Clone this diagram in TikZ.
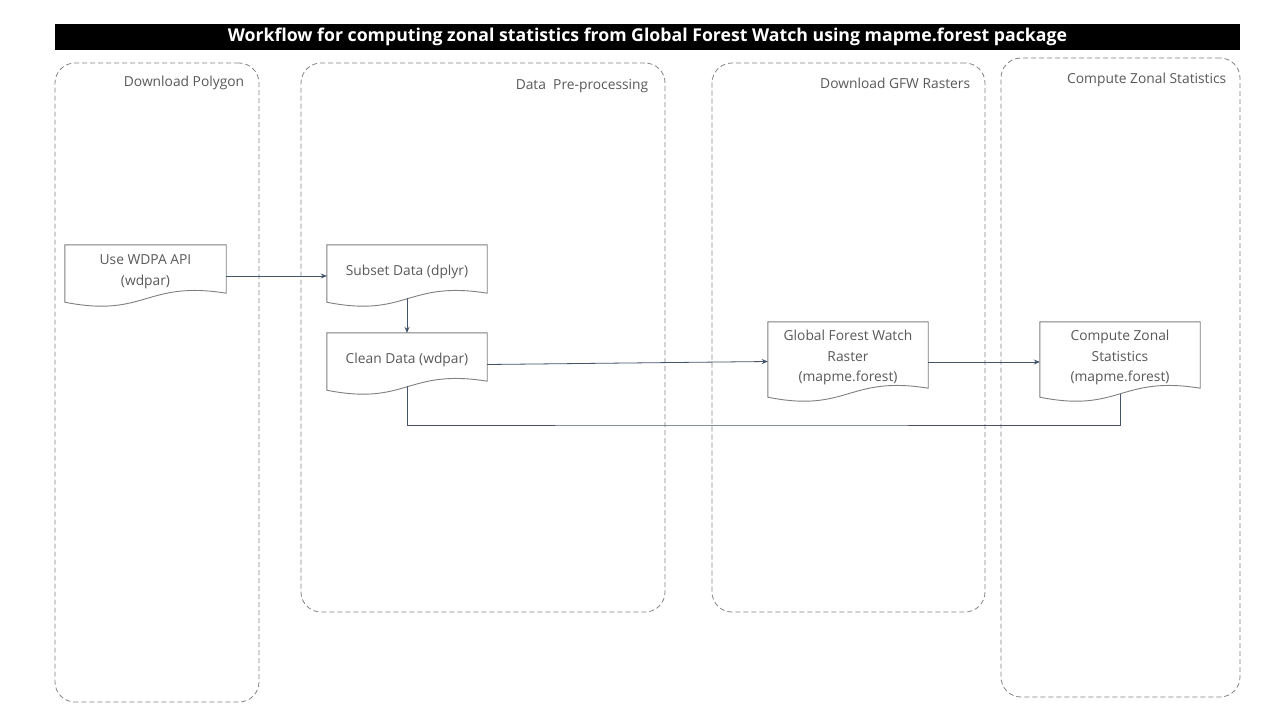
\documentclass[tikz,border=0pt]{standalone}
\usepackage{fontspec}
\setmainfont{Open Sans}
\usetikzlibrary{arrows.meta,calc}
\definecolor{lanegray}{HTML}{858585}
\definecolor{txtgray}{HTML}{595959}
\definecolor{conncol}{HTML}{44546A}
\definecolor{nodeline}{HTML}{7F7F7F}
\tikzset{
  lane/.style={draw=lanegray, dash pattern=on 5pt off 3pt, rounded corners=20pt, line width=0.8pt, inner sep=0pt},
  lanelabel/.style={anchor=east, text=txtgray, font=\fontsize{13.8}{15}\selectfont, inner sep=0pt},
  docnode/.style={minimum width=160pt, minimum height=53pt, inner sep=2pt, align=center, text=txtgray, font=\fontsize{13.8}{20.5}\selectfont},
  docline/.style={draw=nodeline, line width=0.9pt},
  conn/.style={draw=conncol, line width=0.8pt},
  arr/.style={conn, -{Stealth[length=6pt,width=5pt]}},
}
\newcommand{\docpath}[1]{\draw[docline] (#1.north west) -- (#1.north east) -- ([yshift=5pt]#1.south east) .. controls ([yshift=18pt]#1.south) and ([yshift=-20pt]#1.south) .. ([yshift=-4pt]#1.south west) -- cycle;}
\begin{document}
\begin{tikzpicture}[x=1pt,y=-1pt]
\useasboundingbox (0,0) rectangle (1280,720);
\fill[white] (0,0) rectangle (1280,720);
% title
\node[fill=black, minimum width=1185pt, minimum height=26pt, inner sep=0pt, text=white, font=\bfseries\fontsize{17.7}{20}\selectfont] (title) at (647.5,37) {Workflow for computing zonal statistics from Global Forest Watch using mapme.forest package};
% lanes
\node[lane, minimum width=204pt, minimum height=639pt] (lane1) at (157,382.5) {};
\node[lane, minimum width=364pt, minimum height=549pt] (lane2) at (483,337.5) {};
\node[lane, minimum width=273pt, minimum height=549pt] (lane3) at (848.5,337.5) {};
\node[lane, minimum width=239pt, minimum height=639pt] (lane4) at (1120.5,377.5) {};
\node[lanelabel] (lab1) at ([xshift=-15pt,yshift=-20pt]lane1.north east) {Download Polygon};
\node[lanelabel] (lab2) at ([xshift=-17pt,yshift=-23pt]lane2.north east) {Data\ \ Pre-processing};
\node[lanelabel] (lab3) at ([xshift=-15pt,yshift=-21pt]lane3.north east) {Download GFW Rasters};
\node[lanelabel] (lab4) at ([xshift=-14pt,yshift=-22pt]lane4.north east) {Compute Zonal Statistics};
% document nodes
\node[docnode, minimum width=161pt] (A) at (145.5,271.5) {Use WDPA API\\(wdpar)};
\node[docnode] (B) at (407,271.5) {Subset Data (dplyr)};
\node[docnode] (C) at (407,359.5) {Clean Data (wdpar)};
\node[docnode, minimum height=71pt] (D) at (848,357.5) {Global Forest Watch\\Raster\\(mapme.forest)};
\node[docnode, minimum height=71pt] (E) at (1120,357.5) {Compute Zonal\\Statistics\\(mapme.forest)};
\docpath{A}
\docpath{B}
\docpath{C}
\docpath{D}
\docpath{E}
% connectors
\coordinate (low) at (700,425);
\draw[arr] ([yshift=-4.5pt]A.east) -- ([yshift=-4.5pt]B.west);
\draw[arr] (B.south) -- (C.north);
\draw[arr] ([yshift=-5pt]C.east) -- ([yshift=-4pt]D.west);
\draw[arr] ([yshift=-4.5pt]D.east) -- ([yshift=-4.5pt]E.west);
\draw[conn] ([yshift=-1pt]E.south) |- (low) -| (C.south);
\end{tikzpicture}
\end{document}
